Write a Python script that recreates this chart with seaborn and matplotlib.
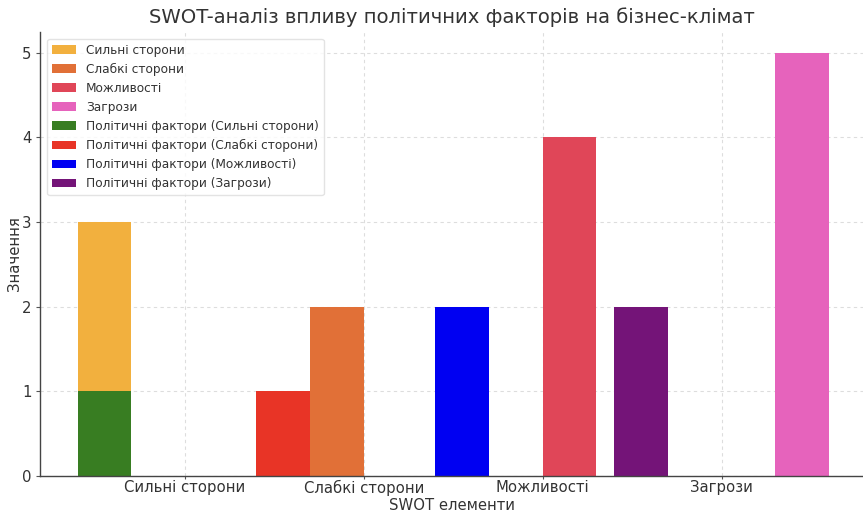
import matplotlib
matplotlib.use("Agg")
import matplotlib.pyplot as plt
import seaborn as sns
import numpy as np

# Data
categories = ["Сильні сторони", "Слабкі сторони", "Можливості", "Загрози"]
swot_values = [3, 2, 4, 5]
political_values = [1, 1, 2, 2]
political_labels = ["Політичні фактори (Сильні сторони)", "Політичні фактори (Слабкі сторони)",
                    "Політичні фактори (Можливості)", "Політичні фактори (Загрози)"]
swot_colors = ["#F2B03E", "#E17037", "#E04658", "#E663BC"]
political_colors = ["#387D22", "#E83426", "#0000F2", "#741478"]

bar_width = 0.3
index = np.arange(len(categories))

sns.set_theme(style="ticks")
plt.rcParams['font.family'] = ['DejaVu Sans']

fig = plt.figure(figsize=(8.63, 5.12), dpi=100)
ax = fig.add_axes([40 / 863, (512 - 475.7) / 512, 1 - 40 / 863, (475.7 - 31.6) / 512])

for i, (cat, val, col) in enumerate(zip(categories, swot_values, swot_colors)):
    sns.barplot(x=[index[i] + i * bar_width], y=[val], color=col, width=bar_width,
                native_scale=True, errorbar=None, label=cat, ax=ax, saturation=1,
                linewidth=0)

for i, (lab, val, col) in enumerate(zip(political_labels, political_values, political_colors)):
    sns.barplot(x=[float(index[i])], y=[val], color=col, width=bar_width,
                native_scale=True, errorbar=None, label=lab, ax=ax, saturation=1,
                linewidth=0)

ax.set_xlim(-0.36, 4.24)
ax.set_ylim(0, 5.25)
ax.set_xticks(index + 1.5 * bar_width)
ax.set_xticklabels(categories, fontsize=10.7, color="#333333")
ax.set_yticks([0, 1, 2, 3, 4, 5])
ax.set_yticklabels(["0", "1", "2", "3", "4", "5"], fontsize=10.7, color="#333333")
ax.tick_params(axis="x", length=2, width=0.8, color="#555555", pad=1.3)
ax.tick_params(axis="y", length=3, width=0.8, color="#555555", pad=3)

ax.set_xlabel("SWOT елементи", fontsize=10.7, color="#333333")
ax.set_ylabel("Значення", fontsize=10.7, color="#333333")
ax.xaxis.set_label_coords(0.5, -0.0505)
ax.yaxis.set_label_coords(-0.022, 0.5)
ax.set_title("SWOT-аналіз впливу політичних факторів на бізнес-клімат", fontsize=14.1,
             color="#333333", pad=6)

ax.set_axisbelow(True)
ax.grid(True, linestyle=(0, (3, 3)), color="#dddddd", linewidth=0.8)
for s in ["top", "right"]:
    ax.spines[s].set_visible(False)
for s in ["left", "bottom"]:
    ax.spines[s].set_color("#444444")
    ax.spines[s].set_linewidth(1.0)

leg = ax.legend(loc="upper left", fontsize=8.7, frameon=True, fancybox=True,
                borderaxespad=0.6)
leg.get_frame().set_edgecolor("#dddddd")
for t in leg.get_texts():
    t.set_color("#333333")

fig.savefig("out.png", dpi=100)
